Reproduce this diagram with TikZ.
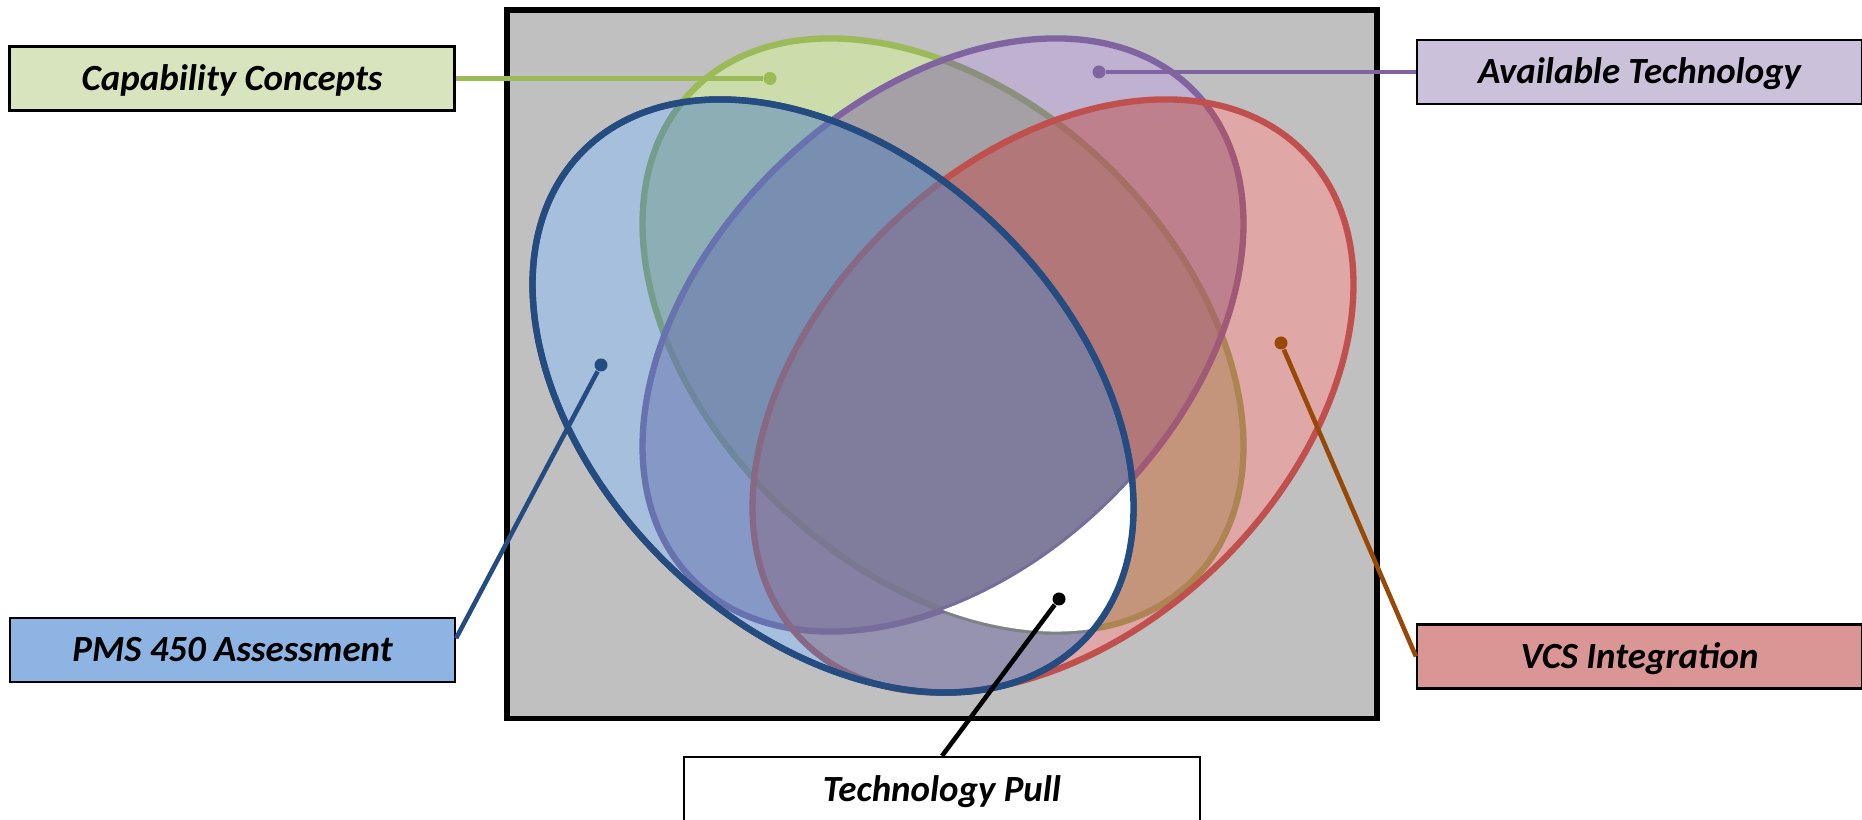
\documentclass[tikz,border=0pt]{standalone}
\usepackage{fontspec}
\setmainfont{Carlito}
\usetikzlibrary{calc}

\definecolor{framegray}{RGB}{192,192,192}
\definecolor{capgreen}{RGB}{155,187,89}
\definecolor{techpurple}{RGB}{128,100,162}
\definecolor{vcsred}{RGB}{192,80,77}
\definecolor{pmsblue}{RGB}{79,129,189}
\definecolor{pmsline}{RGB}{36,76,128}
\definecolor{vcsline}{RGB}{152,72,7}
\definecolor{capfill}{RGB}{215,228,189}
\definecolor{techfill}{RGB}{204,193,218}
\definecolor{pmsfill}{RGB}{142,180,227}
\definecolor{vcsfill}{RGB}{217,150,148}

\def\ra{3.5}
\def\rb{2.36}

\begin{document}
\begin{tikzpicture}[
	tag/.style={draw=black, line width=0.6pt, minimum width=4.45cm, minimum height=0.64cm, inner sep=0pt, text height=9.26pt, text depth=2.5pt, font=\fontsize{10.5}{12}\selectfont\bfseries\itshape},
	leaf/.style={line width=1.8pt, fill opacity=0.5},
	lead/.style={line width=1.3pt},
	dot/.style={circle, inner sep=0pt, minimum size=1.3mm}
	]
				\useasboundingbox (0,0) rectangle (18.62,8.2);
				
				\draw[fill=framegray, line width=1.7pt] (5.07,1.015) rectangle (13.765,8.103);
				
				\coordinate (bl) at (8.33,4.24);
				\coordinate (rd) at (10.53,4.24);
				\coordinate (gr) at (9.43,4.85);
				\coordinate (pu) at (9.43,4.85);
				
				\foreach \c/\a in {gr/-44,pu/44,rd/44,bl/-44}
					\fill[white, rotate around={\a:(\c)}] (\c) ellipse [x radius=\ra, y radius=\rb];
				
				\draw[leaf, draw=capgreen, fill=capgreen, rotate around={-44:(gr)}] (gr) ellipse [x radius=\ra, y radius=\rb];
				\draw[leaf, draw=techpurple, fill=techpurple, rotate around={44:(pu)}] (pu) ellipse [x radius=\ra, y radius=\rb];
				\draw[leaf, draw=vcsred, fill=vcsred, rotate around={44:(rd)}] (rd) ellipse [x radius=\ra, y radius=\rb];
				\draw[leaf, draw=pmsline, fill=pmsblue, rotate around={-44:(bl)}] (bl) ellipse [x radius=\ra, y radius=\rb];
				
				\begin{scope}
					\clip[rotate around={-44:(bl)}] (bl) ellipse [x radius=\ra, y radius=\rb];
					\clip[rotate around={-44:(gr)}] (gr) ellipse [x radius=\ra, y radius=\rb];
					\clip[rotate around={44:(rd)}] (rd) ellipse [x radius=\ra, y radius=\rb];
					\fill[white, even odd rule, rotate around={44:(pu)}] (pu) ellipse [x radius=\ra, y radius=\rb] (-20,-20) rectangle (40,40);
				\end{scope}
				\draw[line width=1.8pt, draw=pmsline, rotate around={-44:(bl)}] (bl) ellipse [x radius=\ra, y radius=\rb];
				
				\node[tag, fill=capfill] (cap) at (2.32,7.415) {Capability Concepts};
				\node[tag, fill=techfill] (avail) at (16.395,7.48) {Available Technology};
				\node[tag, fill=pmsfill] (pms) at (2.325,1.70) {PMS 450 Assessment};
				\node[tag, fill=vcsfill] (vcs) at (16.395,1.635) {VCS Integration};
				\node[tag, fill=white, minimum width=5.16cm, minimum height=0.66cm] (pull) at (9.42,0.30) {Technology Pull};
				
				\node[dot, fill=capgreen] (capdot) at (7.70,7.415) {};
				\node[dot, fill=techpurple] (availdot) at (10.99,7.48) {};
				\node[dot, fill=pmsline] (pmsdot) at (6.01,4.55) {};
				\node[dot, fill=vcsline] (vcsdot) at (12.81,4.77) {};
				\node[dot, fill=black] (pulldot) at (10.59,2.21) {};
				
				\draw[lead, capgreen] (cap) -- (capdot);
				\draw[lead, techpurple] (availdot) -- (avail);
				\draw[lead, pmsline] (pmsdot) -- (pms.3);
				\draw[lead, vcsline] (vcsdot) -- (vcs.west);
				\draw[lead, black] (pulldot) -- (pull.north);
\end{tikzpicture}
\end{document}
